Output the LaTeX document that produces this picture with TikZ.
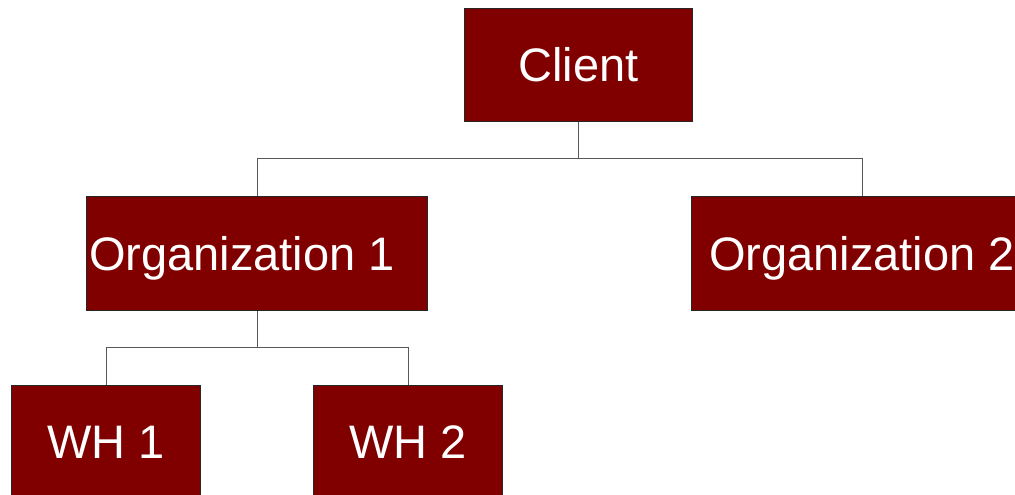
\documentclass[tikz,border=0pt]{standalone}
\usepackage{fontspec}
\setmainfont{Liberation Sans}
\definecolor{boxred}{RGB}{128,0,0}
\begin{document}
\begin{tikzpicture}[x=1pt,y=-1pt,
  box/.style={draw=black!85, line width=0.8pt, fill=boxred, text=white,
    font=\fontsize{47}{56}\selectfont, inner sep=0pt, anchor=north west,
    text height=34pt, text depth=0pt},
  conn/.style={draw=black!65, line width=0.8pt}]
\useasboundingbox (0,0) rectangle (1015,495);
\clip (0,0) rectangle (1015,495);
\fill[white] (0,0) rectangle (1015,495);
\node[box, minimum width=228pt, minimum height=113pt] (client) at (464,8) {Client};
\node[box, minimum width=341pt, minimum height=114pt] (org1) at (86,196) {Organization 1\hspace*{30pt}};
\node[box, minimum width=341pt, minimum height=114pt] (org2) at (691,196) {Organization 2};
\node[box, minimum width=189pt, minimum height=113pt] (wh1) at (11,385) {WH 1};
\node[box, minimum width=189pt, minimum height=113pt] (wh2) at (313,385) {WH 2};
\draw[conn] (client.south) -- ++(0,37) coordinate (j1);
\draw[conn] (org1.north) |- (j1) -| (org2.north);
\draw[conn] (org1.south) -- ++(0,37) coordinate (j2);
\draw[conn] (wh1.north) |- (j2) -| (wh2.north);
\end{tikzpicture}
\end{document}
